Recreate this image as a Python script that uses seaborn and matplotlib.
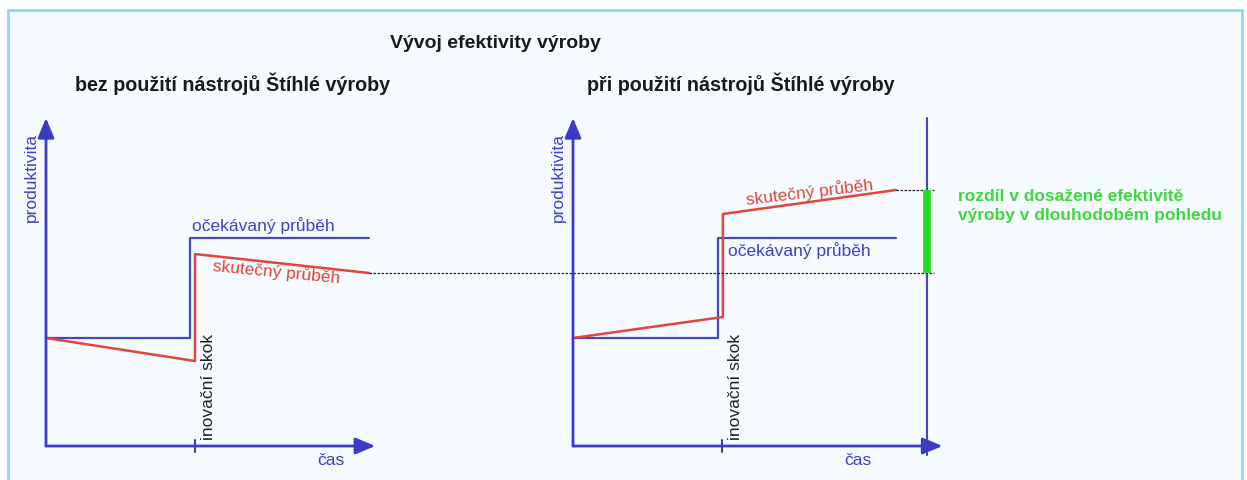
import pandas as pd
import matplotlib.pyplot as plt
from matplotlib.patches import Rectangle
import seaborn as sns

# productivity over time, jump (innovation) at t = 5
left_expected_t = [0, 4.83, 4.83, 10.84]
left_expected_p = [10.8, 10.8, 20.8, 20.8]
left_actual_t = [0, 5.0, 5.0, 10.84]
left_actual_p = [10.8, 8.5, 19.2, 17.3]

right_expected_t = [0, 4.87, 4.87, 10.84]
right_expected_p = [10.8, 10.8, 20.8, 20.8]
right_actual_t = [0, 5.03, 5.03, 10.84]
right_actual_p = [10.8, 12.9, 23.2, 25.6]

jump_t = 5.0
horizon_t = 11.88

title = "Vývoj efektivity výroby"
left_title = "bez použití nástrojů Štíhlé výroby"
right_title = "při použití nástrojů Štíhlé výroby"
y_label = "produktivita"
x_label = "čas"
jump_label = "inovační skok"
expected_label = "očekávaný průběh"
actual_label = "skutečný průběh"
gap_label = "rozdíl v dosažené efektivitě\nvýroby v dlouhodobém pohledu"

W, H = 1247, 480
PX_X, PX_Y = 29.8, 10.0   # pixels per data unit

AXIS_BLUE = "#3B3BC4"
LINE_BLUE = "#4646BE"
LINE_RED = "#E2443E"
TEXT_BLUE = "#4040C8"
GREEN = "#22DD22"
LABEL_SIZE = 12.5

sns.set_theme(style="white")
plt.rcParams['font.family'] = ['Liberation Sans', 'DejaVu Sans']

fig = plt.figure(figsize=(W / 100, H / 100), dpi=100, facecolor="white")
fig.patches.append(Rectangle((8 / W, -0.02), (1242 - 8) / W, (480 - 10) / H + 0.02,
                             transform=fig.transFigure, facecolor="#F4FAFD",
                             edgecolor="#8FD8EA", lw=2, zorder=-1))


def place_axes(ox, oy, x0, x1, y0, y1):
    # axes covering pixel box [x0,x1] x [y0,y1] with data origin at pixel (ox, oy)
    ax = fig.add_axes([x0 / W, 1 - y1 / H, (x1 - x0) / W, (y1 - y0) / H])
    ax.set_xlim((x0 - ox) / PX_X, (x1 - ox) / PX_X)
    ax.set_ylim((oy - y1) / PX_Y, (oy - y0) / PX_Y)
    ax.set_facecolor("none")
    ax.axis("off")
    return ax


def draw_panel(ax, exp_t, exp_p, act_t, act_p, x_end, lab):
    arrow = dict(arrowstyle="-|>,head_length=1.2,head_width=0.5", color=AXIS_BLUE,
                 lw=2, mutation_scale=10, shrinkA=0, shrinkB=0)
    ax.annotate("", xy=(0, 32.8), xytext=(0, 0), arrowprops=arrow)
    ax.annotate("", xy=(x_end, 0), xytext=(0, 0), arrowprops=arrow)
    ax.plot([jump_t, jump_t], [-0.6, 0.6], color=AXIS_BLUE, lw=1.5)

    df_exp = pd.DataFrame({"t": exp_t, "p": exp_p})
    df_act = pd.DataFrame({"t": act_t, "p": act_p})
    sns.lineplot(data=df_exp, x="t", y="p", sort=False, estimator=None,
                 color=LINE_BLUE, lw=1.6, ax=ax)
    sns.lineplot(data=df_act, x="t", y="p", sort=False, estimator=None,
                 color=LINE_RED, lw=1.8, ax=ax)
    ax.set_xlabel("")
    ax.set_ylabel("")
    ax.axis("off")

    ax.text(-0.5, 26.8, y_label, rotation=90, ha="center", va="center",
            color=TEXT_BLUE, fontsize=LABEL_SIZE)
    ax.text(9.55, -1.45, x_label, ha="center", va="center", color=TEXT_BLUE,
            fontsize=LABEL_SIZE)
    ax.text(jump_t + 0.45, 5.9, jump_label, rotation=90, ha="center", va="center",
            color="#222222", fontsize=LABEL_SIZE)
    ax.text(lab["exp"][0], lab["exp"][1], expected_label, ha="center", va="center",
            color=TEXT_BLUE, fontsize=LABEL_SIZE)
    ax.text(lab["act"][0], lab["act"][1], actual_label, ha="center", va="center",
            rotation=lab["rot"], rotation_mode="anchor", color=LINE_RED,
            fontsize=LABEL_SIZE)


ax_l = place_axes(46, 446, 15, 400, 100, 475)
ax_r = place_axes(573, 446, 540, 1247, 100, 475)

draw_panel(ax_l, left_expected_t, left_expected_p, left_actual_t, left_actual_p, 11.05,
           {"exp": (7.28, 22.0), "act": (7.75, 17.4), "rot": -5.5})
draw_panel(ax_r, right_expected_t, right_expected_p, right_actual_t, right_actual_p, 12.4,
           {"exp": (7.58, 19.5), "act": (7.92, 25.4), "rot": 6.8})

# long-term horizon and comparison
ax_r.plot([horizon_t, horizon_t], [-0.9, 32.8], color=LINE_BLUE, lw=1.5)
ax_r.plot([right_actual_t[-1], horizon_t + 0.25], [right_actual_p[-1]] * 2,
          color="#222222", lw=0.9, ls=(0, (2, 1.2)))
ax_r.plot([left_actual_t[-1] - (573 - 46) / PX_X, horizon_t + 0.25], [left_actual_p[-1]] * 2,
          color="#222222", lw=0.9, ls=(0, (2, 1.2)), clip_on=False)
ax_r.plot([horizon_t, horizon_t], [left_actual_p[-1], right_actual_p[-1]],
          color=GREEN, lw=5.5, solid_capstyle="butt")
ax_r.text(horizon_t + 1.05, 24.0, gap_label, ha="left", va="center", color="#3ED83E",
          fontsize=12.5, fontweight="bold", linespacing=1.35)

fig.text(495 / W, 1 - 43 / H, title, ha="center", va="center", fontsize=14,
         fontweight="bold", color="#1A1A1A")
fig.text(233 / W, 1 - 84 / H, left_title, ha="center", va="center", fontsize=14.2,
         fontweight="bold", color="#1A1A1A")
fig.text(741 / W, 1 - 84 / H, right_title, ha="center", va="center", fontsize=14.2,
         fontweight="bold", color="#1A1A1A")

fig.savefig("out.png", dpi=100, facecolor="white")
